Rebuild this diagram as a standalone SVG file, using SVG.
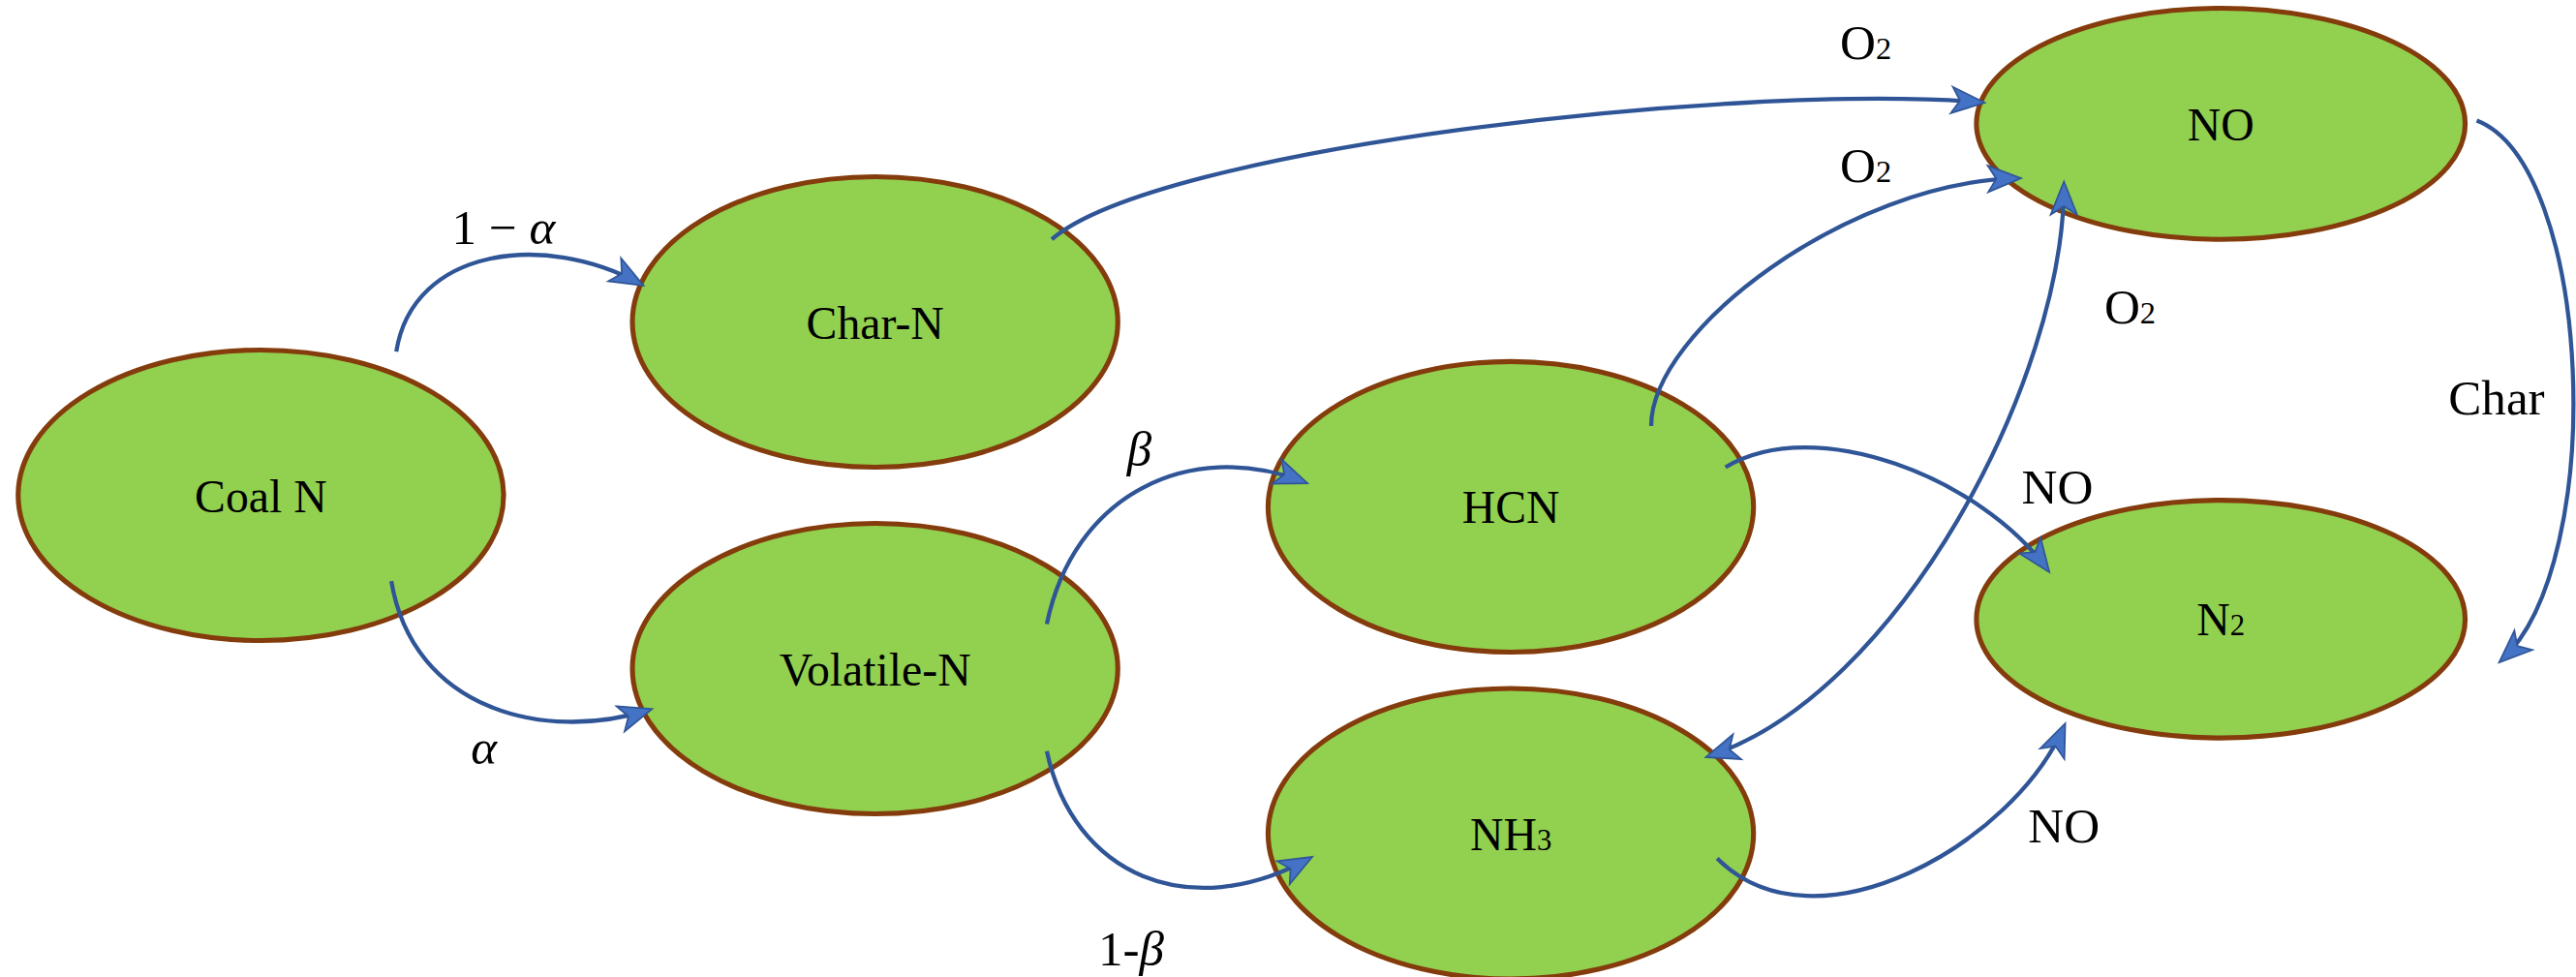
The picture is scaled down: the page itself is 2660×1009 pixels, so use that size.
<svg xmlns="http://www.w3.org/2000/svg" width="2660" height="1009" viewBox="0 0 2660 1009">
<style>
.n{fill:#92D050;stroke:#843C0C;stroke-width:3}
.t{font-family:"Liberation Serif",serif;font-size:28px;fill:#000;text-anchor:middle}
.l{font-family:"Liberation Serif",serif;font-size:30px;fill:#000;text-anchor:middle}
.i{font-style:italic}
.c{fill:none;stroke:#2F5597;stroke-width:2.5;marker-end:url(#a)}
</style>
<defs>
<marker id="a" viewBox="-10 -10 24 20" refX="10" refY="0" markerWidth="24" markerHeight="20" orient="auto" markerUnits="userSpaceOnUse">
<path d="M-8,-8 L12,0 L-8,8 L-3,0 Z" fill="#4472C4" stroke="#2F5597" stroke-width="1"/>
</marker>
<marker id="s" viewBox="-10 -10 24 20" refX="10" refY="0" markerWidth="24" markerHeight="20" orient="auto-start-reverse" markerUnits="userSpaceOnUse">
<path d="M-8,-8 L12,0 L-8,8 L-3,0 Z" fill="#4472C4" stroke="#2F5597" stroke-width="1"/>
</marker>
</defs>
<rect width="2660" height="1009" fill="#fff"/>
<g transform="scale(1.705)">
<g id="coal"><ellipse class="n" cx="158" cy="300" rx="147" ry="88"/><text class="t" x="158" y="310">Coal N</text></g>
<g id="char"><ellipse class="n" cx="530" cy="195" rx="147" ry="88"/><text class="t" x="530" y="205">Char-N</text></g>
<g id="vol"><ellipse class="n" cx="530" cy="405" rx="147" ry="88"/><text class="t" x="530" y="415">Volatile-N</text></g>
<g id="hcn"><ellipse class="n" cx="915" cy="307" rx="147" ry="88"/><text class="t" x="915" y="317">HCN</text></g>
<g id="nh3"><ellipse class="n" cx="915" cy="505" rx="147" ry="88"/><text class="t" x="915" y="515">NH<tspan font-size="18">3</tspan></text></g>
<g id="no"><ellipse class="n" cx="1345" cy="75" rx="148" ry="70"/><text class="t" x="1345" y="85">NO</text></g>
<g id="n2"><ellipse class="n" cx="1345" cy="375" rx="148" ry="72"/><text class="t" x="1345" y="385">N<tspan font-size="18">2</tspan></text></g>
<g id="connectors">
<path class="c" d="M240,213 C250,150 330,140 388,172"/>
<path class="c" d="M237,352 C250,430 330,450 393,430"/>
<path class="c" d="M634,378 C650,300 720,265 790,292"/>
<path class="c" d="M634,455 C650,530 720,560 793,520"/>
<path class="c" d="M637,145 C700,90 1050,50 1200,62"/>
<path class="c" d="M1000,258 C1000,200 1120,110 1222,108"/>
<path class="c" d="M1045,283 C1100,250 1200,290 1240,345"/>
<path class="c" d="M1035,458 C1150,420 1250,230 1250,112" marker-start="url(#s)"/>
<path class="c" d="M1040,520 C1100,580 1220,510 1250,440"/>
<path class="c" d="M1500,73 C1570,100 1580,340 1515,400"/>
</g>
<text class="l" x="305" y="148">1 − <tspan class="i">α</tspan></text>
<text class="l i" x="293" y="463">α</text>
<text class="l i" x="690" y="282">β</text>
<text class="l" x="685" y="585">1-<tspan class="i">β</tspan></text>
<text class="l" x="1130" y="36">O<tspan font-size="19">2</tspan></text>
<text class="l" x="1130" y="110">O<tspan font-size="19">2</tspan></text>
<text class="l" x="1290" y="196">O<tspan font-size="19">2</tspan></text>
<text class="l" x="1246" y="305">NO</text>
<text class="l" x="1250" y="510">NO</text>
<text class="l" x="1512" y="251">Char</text>
</g>
</svg>
